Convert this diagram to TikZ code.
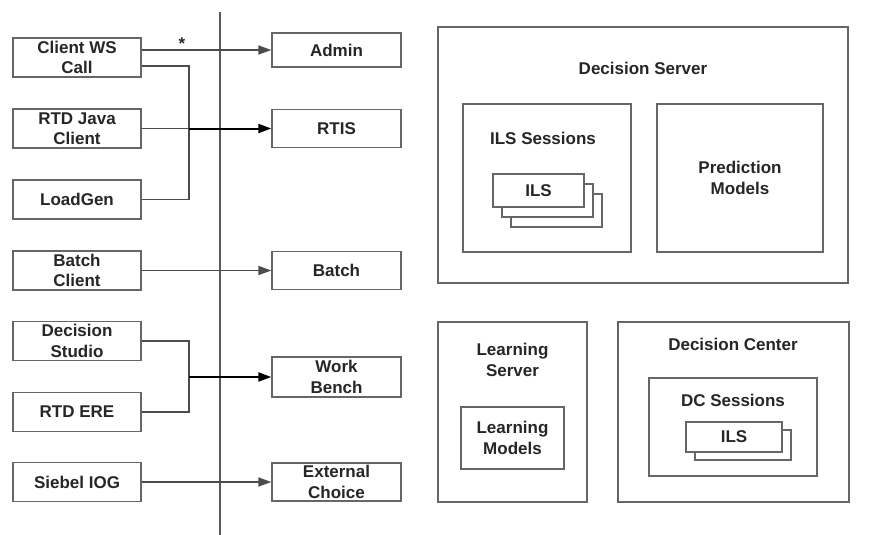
\documentclass[tikz,border=0pt]{standalone}
\usepackage{fontspec}
\setmainfont{Liberation Sans}
\usetikzlibrary{arrows.meta, calc, positioning}

\begin{document}
\begin{tikzpicture}[x=1pt, y=-1pt, line width=1.3pt,
    box/.style={draw=black!60, fill=white, align=center, inner sep=0pt,
        font=\fontsize{17}{20.5}\selectfont\bfseries, text=black!85},
    client/.style={box, minimum width=128, minimum height=39},
    target/.style={box, minimum width=129, minimum height=38},
    lbl/.style={align=center, inner sep=0pt,
        font=\fontsize{17}{20.5}\selectfont\bfseries, text=black!85},
    link/.style={draw=black!70, line width=1.4pt},
    merged/.style={draw=black, line width=2pt},
    tip/.style={-{Triangle[length=13pt,width=9pt]}}
]
    \useasboundingbox (0,0) rectangle (876,535);
    % divider
    \draw[black!65] (220,12) -- (220,535);

    % clients
    \node[client] (cws)     at (77,57.5)  {Client WS\\Call};
    \node[client] (rtdjava) at (77,128.5) {RTD Java\\Client};
    \node[client] (loadgen) at (77,199.5) {LoadGen};
    \node[client] (batchcl) at (77,270.5) {Batch\\Client};
    \node[client] (studio)  at (77,341)   {Decision\\Studio};
    \node[client] (ere)     at (77,412)   {RTD ERE};
    \node[client] (siebel)  at (77,482)   {Siebel IOG};

    % entry points
    \node[target, minimum height=34] (admin) at (336.5,50) {Admin};
    \node[target] (rtis)  at (336.5,128.5) {RTIS};
    \node[target] (batch) at (336.5,270.5) {Batch};
    \node[target, minimum height=40] (bench) at (336.5,377) {Work\\Bench};
    \node[target] (extc)  at (336.5,482) {External\\Choice};

    \coordinate (jA) at (189,128.5);
    \coordinate (jB) at (189,377);

    \draw[link, tip] (cws.east |- admin) -- (admin);
    \node[lbl] (star) at (182,44) {*};
    \draw[link] ([yshift=-8.5pt]cws.east) -| (jA) |- (loadgen.east);
    \draw[link] (rtdjava) -- (jA);
    \draw[merged, tip] (jA) -- (rtis);
    \draw[link, tip] (batchcl) -- (batch);
    \draw[link] (studio.east) -| (jB) |- (ere.east);
    \draw[merged, tip] (jB) -- (bench);
    \draw[link, tip] (siebel) -- (extc);

    % decision server
    \node[box, minimum width=410, minimum height=256] (dserver) at (643,155) {};
    \node[lbl] (dserverlbl) at (643,68) {Decision Server};
    \node[box, minimum width=168, minimum height=148] (ilssess) at (547,178) {};
    \node[lbl] (ilssesslbl) at (543,138) {ILS Sessions};
    \node[box, minimum width=91, minimum height=33] (ilsc) at (556.5,210.5) {};
    \node[box, minimum width=91, minimum height=33] (ilsb) at (547.5,200.5) {};
    \node[box, minimum width=91, minimum height=33] (ilsa) at (538.5,190.5) {ILS};
    \node[box, minimum width=166, minimum height=148] (predict) at (740,178) {Prediction\\Models};

    % learning server
    \node[box, minimum width=149, minimum height=180] (lserver) at (512.5,412) {};
    \node[lbl] (lserverlbl) at (512.5,360) {Learning\\Server};
    \node[box, minimum width=103, minimum height=62] (lmodels) at (512.5,438) {Learning\\Models};

    % decision center
    \node[box, minimum width=231, minimum height=180] (dcenter) at (733.5,412) {};
    \node[lbl] (dcenterlbl) at (733,344) {Decision Center};
    \node[box, minimum width=168, minimum height=98] (dcsess) at (733,427) {};
    \node[lbl] (dcsesslbl) at (733,400) {DC Sessions};
    \node[box, minimum width=96, minimum height=30] (dcilsb) at (743,445) {};
    \node[box, minimum width=96, minimum height=30] (dcilsa) at (734,437) {ILS};
\end{tikzpicture}
\end{document}
